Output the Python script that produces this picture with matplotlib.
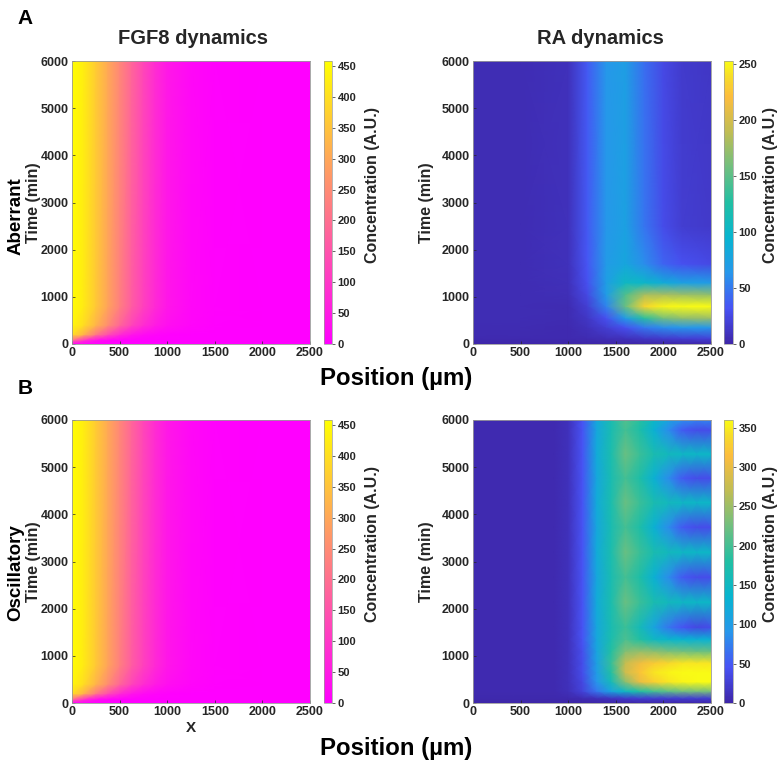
import numpy as np
import matplotlib
matplotlib.use("Agg")
import matplotlib.pyplot as plt
from matplotlib.colors import LinearSegmentedColormap

plt.rcParams['font.family'] = ['Liberation Sans', 'DejaVu Sans']

# ---- FGF8 field (same in both rows) ----
fgf_x = [0, 125, 250, 375, 500, 625, 750, 875, 1000, 1250, 1500, 2000, 2500]
fgf_t = [0, 80, 200, 400, 800, 6000]
fgf_vals = [
    [0, 0, 0, 0, 0, 0, 0, 0, 0, 0, 0, 0, 0],
    [200, 90, 30, 10, 3, 0, 0, 0, 0, 0, 0, 0, 0],
    [400, 320, 220, 140, 80, 40, 20, 10, 5, 1, 0, 0, 0],
    [445, 395, 325, 255, 185, 125, 82, 50, 28, 10, 3, 0, 0],
    [455, 420, 360, 295, 230, 168, 117, 74, 40, 14, 4, 0, 0],
    [458, 425, 365, 305, 245, 183, 128, 80, 43, 15, 4, 0, 0],
]
fgf_max = 458

# ---- RA, aberrant ----
ra_ab_x = [0, 500, 1000, 1200, 1400, 1600, 1800, 2000, 2200, 2500]
ra_ab_t = [0, 120, 350, 550, 800, 1050, 1300, 1700, 2500, 6000]
ra_ab_vals = [
    [0, 0, 0, 0, 0, 0, 0, 0, 0, 0],
    [3, 3, 3, 4, 6, 8, 12, 15, 18, 20],
    [4, 4, 3, 8, 18, 30, 50, 60, 65, 65],
    [5, 5, 4, 12, 30, 70, 130, 160, 170, 175],
    [5, 5, 4, 18, 55, 155, 235, 250, 253, 253],
    [5, 5, 6, 25, 70, 145, 180, 180, 175, 170],
    [5, 5, 7, 30, 72, 105, 100, 85, 75, 70],
    [5, 5, 8, 33, 68, 80, 60, 40, 30, 25],
    [5, 5, 8, 35, 65, 75, 48, 27, 17, 14],
    [5, 5, 8, 35, 65, 72, 45, 25, 15, 12],
]
ra_ab_max = 253

# ---- RA, oscillatory ----
ra_osc_x = [0, 850, 1000, 1150, 1300, 1450, 1600, 1750, 1900, 2050, 2200, 2350, 2500]
ra_osc_t = [0, 100, 250, 450, 650, 850, 1100, 1350, 1610, 2140, 2670, 3200,
            3730, 4250, 4770, 5280, 5790, 6000]
ra_osc_vals = [
    [0, 0, 0, 0, 0, 0, 0, 0, 0, 0, 0, 0, 0],
    [3, 3, 4, 6, 10, 15, 20, 25, 25, 25, 25, 25, 25],
    [5, 5, 10, 30, 70, 110, 150, 180, 200, 215, 225, 230, 230],
    [5, 5, 12, 35, 90, 160, 240, 300, 330, 345, 355, 360, 360],
    [5, 5, 12, 40, 100, 180, 280, 320, 345, 355, 360, 360, 360],
    [5, 5, 12, 40, 105, 190, 275, 305, 325, 335, 345, 345, 345],
    [5, 5, 12, 42, 110, 180, 235, 245, 240, 230, 225, 220, 220],
    [5, 5, 12, 45, 115, 170, 205, 180, 150, 140, 135, 130, 130],
    [5, 5, 12, 45, 115, 165, 195, 160, 110, 70, 45, 35, 38],
    [5, 5, 12, 45, 120, 170, 222, 195, 168, 155, 148, 145, 145],
    [5, 5, 12, 45, 115, 165, 200, 175, 130, 85, 50, 38, 40],
    [5, 5, 12, 45, 120, 170, 222, 195, 168, 155, 148, 145, 145],
    [5, 5, 12, 45, 115, 165, 200, 175, 130, 85, 50, 38, 40],
    [5, 5, 12, 45, 120, 170, 222, 195, 168, 155, 148, 145, 145],
    [5, 5, 12, 45, 115, 165, 200, 175, 130, 85, 50, 38, 40],
    [5, 5, 12, 45, 120, 170, 222, 195, 168, 155, 148, 145, 145],
    [5, 5, 12, 45, 115, 165, 200, 175, 130, 85, 50, 38, 40],
    [5, 5, 12, 45, 117, 167, 208, 183, 145, 110, 85, 75, 78],
]
ra_osc_max = 360

x_ticks = [0, 500, 1000, 1500, 2000, 2500]
t_ticks = [0, 1000, 2000, 3000, 4000, 5000, 6000]

# MATLAB parula, approximated from anchor colours
parula = LinearSegmentedColormap.from_list("parula", [
    (0.000, (0.2422, 0.1504, 0.6603)),
    (0.125, (0.2810, 0.3228, 0.9579)),
    (0.250, (0.1540, 0.5902, 0.9218)),
    (0.375, (0.0297, 0.7082, 0.8163)),
    (0.500, (0.1300, 0.7500, 0.6400)),
    (0.625, (0.4400, 0.7500, 0.5000)),
    (0.750, (0.7500, 0.7400, 0.3300)),
    (0.875, (0.9900, 0.7400, 0.2400)),
    (0.940, (0.9700, 0.8500, 0.1700)),
    (1.000, (0.9769, 0.9839, 0.0805)),
])

W, H = 778, 767
fig = plt.figure(figsize=(W / 100, H / 100), dpi=100)
txt = '#262626'


def px_axes(left, top, right, bottom):
    return fig.add_axes([left / W, 1 - bottom / H, (right - left) / W, (bottom - top) / H])


def draw_panel(ax_box, cb_box, xs, ts, vals, cmap, vmax, ylab_x):
    ax = px_axes(*ax_box)
    X, T = np.meshgrid(xs, ts)
    m = ax.pcolormesh(X, T, np.array(vals, dtype=float), shading='gouraud',
                      cmap=cmap, vmin=0, vmax=vmax, rasterized=True)
    ax.set_xlim(0, 2500)
    ax.set_ylim(0, 6000)
    ax.set_xticks(x_ticks)
    ax.set_yticks(t_ticks)
    ax.tick_params(direction='in', length=2.5, width=0.5, labelsize=9,
                   colors=txt, pad=2.5)
    for lab in ax.get_xticklabels() + ax.get_yticklabels():
        lab.set_fontweight('bold')
    for s in ax.spines.values():
        s.set_color('#9a9a9a')
        s.set_linewidth(0.6)
    ax.set_ylabel("Time (min)", fontsize=11.5, fontweight='bold', color=txt)
    ax.yaxis.set_label_coords(ylab_x, 0.5)

    cax = px_axes(*cb_box)
    cb = fig.colorbar(m, cax=cax, ticks=np.arange(0, vmax, 50))
    cb.outline.set_edgecolor('#9a9a9a')
    cb.outline.set_linewidth(0.5)
    cax.tick_params(direction='out', length=2, width=0.5, labelsize=8,
                    colors=txt, pad=2)
    for lab in cax.get_yticklabels():
        lab.set_fontweight('bold')
    return ax, cax


# top row
ax1, c1 = draw_panel((72, 61, 310, 344), (324, 61, 332, 344),
                     fgf_x, fgf_t, fgf_vals, 'spring', fgf_max, -0.132)
ax2, c2 = draw_panel((473, 61, 711, 344), (724, 61, 733, 344),
                     ra_ab_x, ra_ab_t, ra_ab_vals, parula, ra_ab_max, -0.165)
# bottom row
ax3, c3 = draw_panel((72, 420, 310, 703), (324, 420, 332, 703),
                     fgf_x, fgf_t, fgf_vals, 'spring', fgf_max, -0.132)
ax4, c4 = draw_panel((473, 420, 711, 703), (724, 420, 733, 703),
                     ra_osc_x, ra_osc_t, ra_osc_vals, parula, ra_osc_max, -0.165)

ax3.set_xlabel("X", fontsize=11, fontweight='bold', color=txt, labelpad=2)


def ftext(x, y, s, **kw):
    fig.text(x / W, 1 - y / H, s, ha='center', va='center', **kw)


ftext(193, 39, "FGF8 dynamics", fontsize=14.5, fontweight='bold', color=txt)
ftext(600, 39, "RA dynamics", fontsize=14.5, fontweight='bold', color=txt)
ftext(25, 18, "A", fontsize=15, fontweight='bold')
ftext(25, 389, "B", fontsize=15, fontweight='bold')
ftext(396, 379, "Position (µm)", fontsize=17.3, fontweight='bold')
ftext(396, 748, "Position (µm)", fontsize=17.3, fontweight='bold')
ftext(16, 216, "Aberrant", fontsize=13.5, fontweight='bold', rotation=90)
ftext(16, 573, "Oscillatory", fontsize=13.5, fontweight='bold', rotation=90)
for cx, cy in [(372, 185), (770, 185), (372, 544), (770, 544)]:
    ftext(cx, cy, "Concentration (A.U.)", fontsize=11.5, fontweight='bold',
          color=txt, rotation=90)

fig.savefig("out.png", dpi=100)
